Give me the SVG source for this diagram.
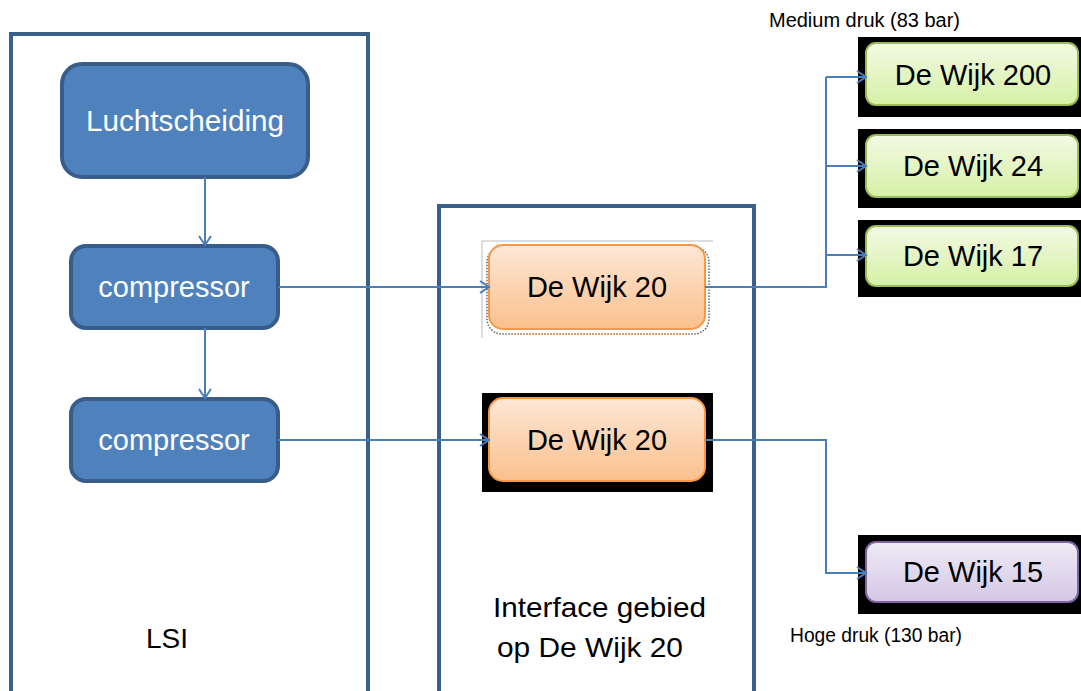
<svg xmlns="http://www.w3.org/2000/svg" width="1081" height="691" viewBox="0 0 1081 691">
<style>
.container{fill:none;stroke:#3A5F8B;stroke-width:4}
.blue{fill:#4F81BD;stroke:#385D8A;stroke-width:4}
.orange{fill:url(#gOrange);stroke:#F79646;stroke-width:2}
.green{fill:url(#gGreen);stroke:#9BBB59;stroke-width:2}
.purple{fill:url(#gPurple);stroke:#8064A2;stroke-width:2}
.conn{fill:none;stroke:#4A7EBB;stroke-width:2}
.wt{font-family:"Liberation Sans",Arial,sans-serif;font-size:29px;fill:#FFFFFF;text-anchor:middle}
.bt{font-family:"Liberation Sans",Arial,sans-serif;font-size:29px;fill:#000000;text-anchor:middle}
.lbl{font-family:"Liberation Sans",Arial,sans-serif;font-size:20px;fill:#000000}
.big{font-family:"Liberation Sans",Arial,sans-serif;font-size:28px;fill:#000000}
.bg{fill:#000000}
</style>
<defs>
<linearGradient id="gOrange" x1="0" y1="0" x2="0" y2="1">
<stop offset="0" stop-color="#FDE7D6"/>
<stop offset="1" stop-color="#FBC08D"/>
</linearGradient>
<linearGradient id="gGreen" x1="0" y1="0" x2="0" y2="1">
<stop offset="0" stop-color="#F2FAE3"/>
<stop offset="1" stop-color="#D6F0A6"/>
</linearGradient>
<linearGradient id="gPurple" x1="0" y1="0" x2="0" y2="1">
<stop offset="0" stop-color="#EEEAF5"/>
<stop offset="1" stop-color="#D4C7E6"/>
</linearGradient>
<marker id="arr" markerWidth="14" markerHeight="14" refX="11" refY="7" orient="auto" markerUnits="userSpaceOnUse">
<path d="M2,1 L11,7 L2,13" fill="none" stroke="#4A7EBB" stroke-width="2"/>
</marker>
</defs>

<g id="containers">
<path class="container" d="M11,691 V34 H368 V691"/>
<path class="container" d="M439,691 V206 H754 V691"/>
</g>

<g id="node-luchtscheiding">
<rect class="blue" x="62" y="64" width="246" height="113" rx="20"/>
<text class="wt" x="185" y="131" textLength="198" lengthAdjust="spacingAndGlyphs">Luchtscheiding</text>
</g>
<g id="node-compressor1">
<rect class="blue" x="71" y="246" width="207" height="82" rx="15"/>
<text class="wt" x="174" y="297">compressor</text>
</g>
<g id="node-compressor2">
<rect class="blue" x="71" y="399" width="207" height="82" rx="15"/>
<text class="wt" x="174" y="450">compressor</text>
</g>

<g id="node-dewijk20a">
<path d="M482,338 V241 H713" fill="none" stroke="#BBBBBB" stroke-width="1"/>
<rect x="487" y="247" width="222" height="87" rx="15" fill="none" stroke="#666666" stroke-width="1.5" stroke-dasharray="1.5,1.5"/>
<rect class="orange" x="489" y="245" width="216" height="84" rx="14"/>
<text class="bt" x="597" y="297">De Wijk 20</text>
</g>
<g id="node-dewijk20b">
<rect class="bg" x="482" y="393" width="231" height="99"/>
<rect class="orange" x="489" y="398" width="216" height="83" rx="14"/>
<text class="bt" x="597" y="450">De Wijk 20</text>
</g>

<g id="node-dewijk200">
<rect class="bg" x="858" y="37" width="223" height="80"/>
<rect class="green" x="866" y="43" width="212" height="62" rx="10"/>
<text class="bt" x="973" y="85">De Wijk 200</text>
</g>
<g id="node-dewijk24">
<rect class="bg" x="858" y="129" width="223" height="79"/>
<rect class="green" x="866" y="135" width="212" height="62" rx="10"/>
<text class="bt" x="973" y="176">De Wijk 24</text>
</g>
<g id="node-dewijk17">
<rect class="bg" x="858" y="220" width="223" height="77"/>
<rect class="green" x="866" y="226" width="212" height="60" rx="10"/>
<text class="bt" x="973" y="266">De Wijk 17</text>
</g>
<g id="node-dewijk15">
<rect class="bg" x="858" y="535" width="223" height="79"/>
<rect class="purple" x="866" y="542" width="212" height="60" rx="10"/>
<text class="bt" x="973" y="582">De Wijk 15</text>
</g>

<g id="connectors">
<path class="conn" d="M205,177 V245" marker-end="url(#arr)"/>
<path class="conn" d="M205,328 V398" marker-end="url(#arr)"/>
<path class="conn" d="M278,287 H489" marker-end="url(#arr)"/>
<path class="conn" d="M278,440 H489" marker-end="url(#arr)"/>
<path class="conn" d="M705,287 H826 V77"/>
<path class="conn" d="M826,77 H866" marker-end="url(#arr)"/>
<path class="conn" d="M826,166 H866" marker-end="url(#arr)"/>
<path class="conn" d="M826,255 H866" marker-end="url(#arr)"/>
<path class="conn" d="M705,440 H826 V573 H866" marker-end="url(#arr)"/>
</g>

<g id="labels">
<text class="lbl" x="769" y="27" textLength="191" lengthAdjust="spacingAndGlyphs">Medium druk (83 bar)</text>
<text class="lbl" x="790" y="642" textLength="172" lengthAdjust="spacingAndGlyphs">Hoge druk (130 bar)</text>
<text class="big" x="146" y="648" font-size="25">LSI</text>
<text class="big" x="493" y="617" textLength="213" lengthAdjust="spacingAndGlyphs">Interface gebied</text>
<text class="big" x="497" y="657" textLength="186" lengthAdjust="spacingAndGlyphs">op De Wijk 20</text>
</g>
</svg>
